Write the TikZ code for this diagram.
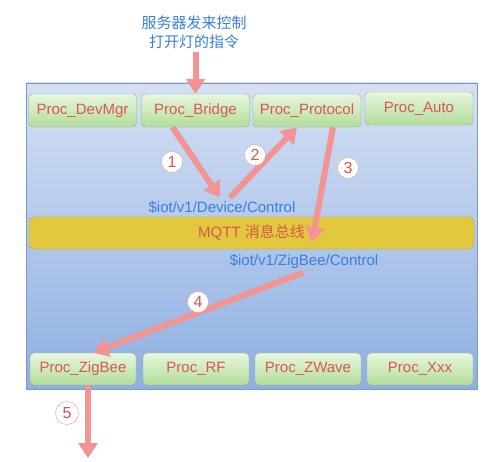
\documentclass[tikz,border=0pt]{standalone}
\usepackage{fontspec}
\setmainfont{Liberation Sans}
\newfontfamily\cjk{Noto Sans CJK SC}
\usetikzlibrary{arrows.meta}

\definecolor{pfeilrot}{HTML}{F29494}
\definecolor{textrot}{HTML}{D9574F}
\definecolor{themablau}{HTML}{3A7FE0}
\definecolor{busgelb}{HTML}{E2C83E}
\definecolor{busrand}{HTML}{B9A13A}
\definecolor{blauoben}{HTML}{D5E0F3}
\definecolor{blauunten}{HTML}{8EAFE2}
\definecolor{blaurand}{HTML}{7F97C2}
\definecolor{gruenoben}{HTML}{E8F6DE}
\definecolor{gruenunten}{HTML}{B2DD9B}
\definecolor{gruenrand}{HTML}{8FB37C}
\definecolor{kreisrand}{HTML}{D8A8A8}

\begin{document}
\begin{tikzpicture}[x=1pt, y=-1pt,
        prozess/.style={rectangle, rounded corners=4pt, draw=gruenrand, top color=gruenoben, bottom color=gruenunten,
            minimum width=108pt, minimum height=33pt, text=textrot, font=\fontsize{15}{18}\selectfont},
        thema/.style={text=themablau, font=\fontsize{15}{18}\selectfont},
        nummer/.style={circle, draw=kreisrand, fill=white, text=textrot, minimum size=21pt, inner sep=0pt,
            font=\fontsize{16}{16}\selectfont},
        pfeil/.style={draw=pfeilrot, line width=6pt, -{Triangle[length=15pt,width=19pt]}}]
        \useasboundingbox (0,0) rectangle (500,462);

        % Rahmen
        \draw[blaurand, top color=blauoben, bottom color=blauunten] (26,83) rectangle (477,389);

        \node [align=center, text=themablau, font=\cjk\fontsize{15}{19}\selectfont] (befehl) at (194,32) {服务器发来控制\\打开灯的指令};

        % Prozesse oben
        \foreach \name/\x/\y in {DevMgr/82.5/110.5, Bridge/195.5/110.5, Protocol/307/110.5, Auto/419/108.5}
            \node [prozess] (\name) at (\x,\y) {Proc\_\name};
        % Prozesse unten
        \foreach \name/\x in {ZigBee/83, RF/196, ZWave/308, Xxx/420}
            \node [prozess, minimum width=106pt, minimum height=32pt] (\name) at (\x,369) {Proc\_\name};

        % Bus
        \node [rectangle, rounded corners=5pt, draw=busrand, fill=busgelb, minimum width=445pt, minimum height=32pt,
            text=textrot, font=\fontsize{15}{18}\selectfont] (bus) at (251.5,233) {MQTT {\cjk 消息总线}};

        \node [thema] (devthema) at (222,207) {\$iot/v1/Device/Control};
        \node [thema] (zbthema) at (304,262) {\$iot/v1/ZigBee/Control};

        \coordinate (busende) at (312,242);
        \coordinate (ausgang) at (88,458);

        % Pfeile
        \draw [pfeil] (befehl.south -| Bridge.north) -- (Bridge.north);
        \draw [pfeil] ([xshift=-23pt]Bridge.south) -- ([xshift=-2pt]devthema.north);
        \draw [pfeil] ([xshift=8pt]devthema.north) -- ([xshift=-10pt]Protocol.south);
        \draw [pfeil] ([xshift=26pt]Protocol.south) -- (busende);
        \draw [pfeil] ([xshift=-1pt]zbthema.south) -- ([xshift=10pt]ZigBee.north);
        \draw [pfeil] ([xshift=5pt]ZigBee.south) -- (ausgang);

        % Nummern
        \foreach \nr/\x/\y in {1/172/162, 2/255/155, 3/348/168, 4/198/302}
            \node [nummer] (n\nr) at (\x,\y) {\nr};
        \node [nummer, minimum size=23pt] (n5) at (67,413) {5};
\end{tikzpicture}
\end{document}
